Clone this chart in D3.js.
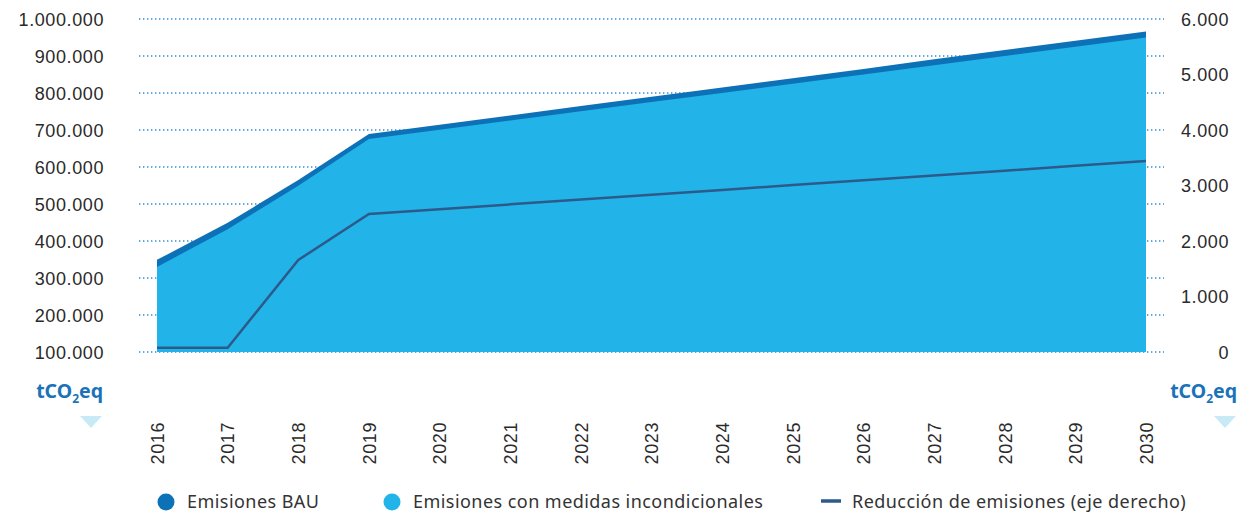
<!DOCTYPE html>
<html>
<head>
<meta charset="utf-8">
<script src="https://cdn.jsdelivr.net/npm/d3@7"></script>
<style>
  body { margin: 0; background: #fff; }
  svg { font-family: "Noto Sans", sans-serif; }
  .tick-label { font-size: 18px; fill: #2a2a2a; letter-spacing: 0.6px; }
  .unit { font-size: 19.5px; font-weight: bold; fill: #1a73b8; }
  .legend-text { font-size: 18px; fill: #333; letter-spacing: 0.45px; }
</style>
</head>
<body>
<svg id="chart" width="1245" height="515"></svg>
<script>
// data
var years = [2016, 2017, 2018, 2019, 2020, 2021, 2022, 2023, 2024, 2025, 2026, 2027, 2028, 2029, 2030];
var bau = [349000, 449000, 565000, 689000, 714000, 739000, 765000, 790000, 815000, 840000, 865000, 891000, 916000, 941000, 966000];
var medidas = [330000, 432000, 549000, 676000, 701000, 726000, 751000, 776000, 800000, 825000, 850000, 875000, 900000, 925000, 950000];
var reduccion = [78, 78, 1658, 2486, 2573, 2660, 2747, 2833, 2920, 3007, 3094, 3180, 3267, 3354, 3441];
var leftTicks = [100000, 200000, 300000, 400000, 500000, 600000, 700000, 800000, 900000, 1000000];
var rightTicks = [0, 1000, 2000, 3000, 4000, 5000, 6000];
var legendItems = ["Emisiones BAU", "Emisiones con medidas incondicionales", "Reducción de emisiones (eje derecho)"];

var colBau = "#0d71b8", colMed = "#22b4e8", colRed = "#2c5a8a", colGrid = "#2f8fd3";

var svg = d3.select("#chart");

var x = d3.scaleLinear().domain([2016, 2030]).range([157, 1146]);
var yL = d3.scaleLinear().domain([100000, 1000000]).range([352, 19]);
var yR = d3.scaleLinear().domain([0, 6000]).range([352, 19]);

var fmt = function (v) {
    return d3.format(",")(v).replace(/,/g, ".");
};

// gridlines
svg.append("g").selectAll("line")
    .data(leftTicks)
    .enter()
    .append("line")
    .attr("x1", 139).attr("x2", 1164)
    .attr("y1", function (d) { return yL(d); })
    .attr("y2", function (d) { return yL(d); })
    .attr("stroke", colGrid)
    .attr("stroke-width", 1.3)
    .attr("stroke-dasharray", "1.4 2.6");

// areas
var areaBau = d3.area()
    .x(function (d, i) { return x(years[i]); })
    .y0(yL(100000))
    .y1(function (d) { return yL(d); });

svg.append("path").datum(bau).attr("d", areaBau).attr("fill", colBau);
svg.append("path").datum(medidas).attr("d", areaBau).attr("fill", colMed);

// reduction line (right axis)
var line = d3.line()
    .x(function (d, i) { return x(years[i]); })
    .y(function (d) { return yR(d); });

svg.append("path").datum(reduccion)
    .attr("d", line)
    .attr("fill", "none")
    .attr("stroke", colRed)
    .attr("stroke-width", 2.5);

// left axis labels
var axL = svg.append("g").attr("transform", "translate(104,0)")
    .call(d3.axisLeft(yL).tickValues(leftTicks).tickFormat(fmt).tickSize(0).tickPadding(0));
axL.select(".domain").remove();
axL.selectAll("text").attr("class", "tick-label").attr("dy", "0.35em").attr("font-family", null).attr("font-size", null).attr("fill", null);

// right axis labels
var axR = svg.append("g").attr("transform", "translate(1229,0)")
    .call(d3.axisLeft(yR).tickValues(rightTicks).tickFormat(fmt).tickSize(0).tickPadding(0));
axR.select(".domain").remove();
axR.selectAll("text").attr("class", "tick-label").attr("dy", "0.35em").attr("font-family", null).attr("font-size", null).attr("fill", null);

// year labels, rotated
var axX = svg.append("g").attr("transform", "translate(0,383)")
    .call(d3.axisBottom(x).tickValues(years).tickFormat(d3.format("d")).tickSize(0).tickPadding(0));
axX.select(".domain").remove();
axX.selectAll("text")
    .attr("class", "tick-label")
    .attr("font-family", null).attr("font-size", null).attr("fill", null)
    .attr("text-anchor", "end")
    .attr("transform", "rotate(-90)")
    .attr("x", -39).attr("y", 0).attr("dy", "0.35em");

// units + triangles
function unit(xr, tx) {
    var t = svg.append("text").attr("class", "unit").attr("x", xr).attr("y", 398).attr("text-anchor", "end");
    t.append("tspan").text("tCO");
    t.append("tspan").attr("font-size", "12px").attr("dy", 5).text("2");
    t.append("tspan").attr("dy", -5).text("eq");
    svg.append("path")
        .attr("d", "M" + (tx - 11) + ",416 L" + (tx + 11) + ",416 L" + tx + ",428 Z")
        .attr("fill", "#c8eaf7");
}
unit(103, 91);
unit(1237, 1225);

// legend
var lg = svg.append("g");
lg.append("circle").attr("cx", 166).attr("cy", 502).attr("r", 8.5).attr("fill", colBau);
lg.append("text").attr("class", "legend-text").attr("x", 187).attr("y", 508).text(legendItems[0]);
lg.append("circle").attr("cx", 392).attr("cy", 502).attr("r", 8.5).attr("fill", colMed);
lg.append("text").attr("class", "legend-text").attr("x", 413).attr("y", 508).text(legendItems[1]);
lg.append("line").attr("x1", 821).attr("x2", 841).attr("y1", 501).attr("y2", 501)
    .attr("stroke", colRed).attr("stroke-width", 3.5);
lg.append("text").attr("class", "legend-text").attr("x", 852).attr("y", 508).text(legendItems[2]);
</script>
</body>
</html>
